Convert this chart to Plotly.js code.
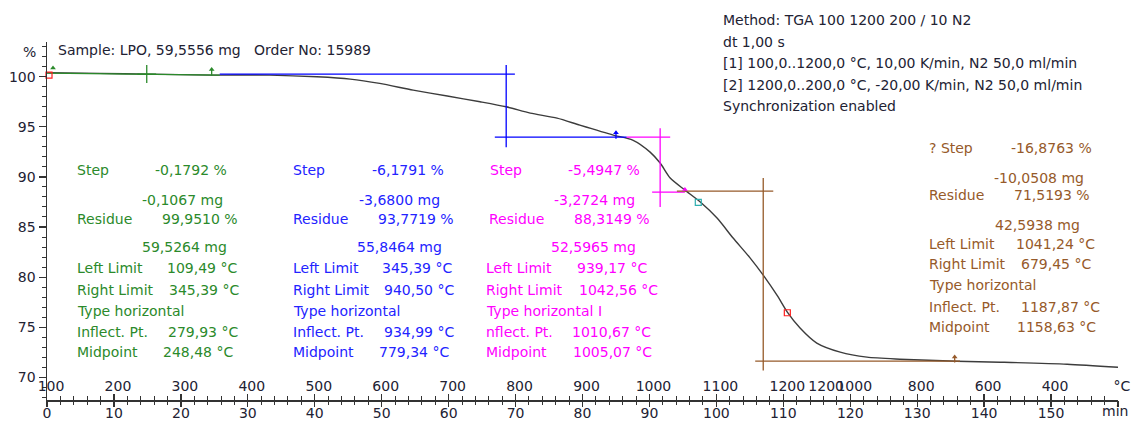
<!DOCTYPE html>
<html><head><meta charset="utf-8">
<script src="https://cdn.plot.ly/plotly-3.0.1.min.js"></script>
<style>html,body{margin:0;padding:0;background:#fff}</style>
</head><body><div id="chart" style="width:1131px;height:421px"></div>
<script>
// ---- data ----
const timeMin = [0, 7.9, 15.1, 24.6, 33.3, 40.3, 45.3, 49.7, 54.7, 59.8, 64.7, 68.6, 72.2, 76.2, 79.6, 84.6, 87.5, 90.1, 91.6, 93.1, 95.3, 97.6, 100.1, 102.5, 105.0, 107.0, 109.1, 110.6, 112.5, 115.0, 118.5, 122.5, 127.4, 135.9, 142.4, 152.4, 160];
const massPct = [100.38, 100.32, 100.25, 100.15, 100.15, 99.98, 99.75, 99.32, 98.65, 98.06, 97.49, 96.99, 96.36, 95.86, 95.16, 94.17, 93.67, 92.47, 91.38, 89.88, 88.68, 87.49, 85.89, 83.90, 81.95, 80.20, 78.15, 76.51, 74.92, 73.42, 72.52, 72.02, 71.82, 71.62, 71.52, 71.32, 71.02];

const minTickVals = [0,10,20,30,40,50,60,70,80,90,100,110,120,130,140,150];
const minTickText = ['0','10','20','30','40','50','60','70','80','90','100','110','120','130','140','150'];
const minUnit = 'min';
const tempTickPos = [0,10,20,30,40,50,60,70,80,90,100,110,115.8,120,130,140,150,160];
const tempTickText = ['100','200','300','400','500','600','700','800','900','1000','1100','1200','1200','1000','800','600','400','°C'];

const greenLineX = [0,25.8,null,14.9,14.9,null,13.5,16.3,null,24.6,24.6];
const greenLineY = [100.35,100.15,null,99.35,101.15,null,100.25,100.25,null,100.75,100.1];
const blueLineX = [25.8,69.9,null,68.6,68.6,null,66.9,86.6,null,85.0,85.0];
const blueLineY = [100.25,100.25,null,101.15,92.95,null,93.97,93.97,null,94.45,93.8];
const magentaLineX = [86.6,93.1,null,91.6,91.6,null,90.4,95.3];
const magentaLineY = [93.97,93.97,null,94.86,86.99,null,88.48,88.48];
const brownLineX = [94.1,108.5,null,107.0,107.0,null,105.8,136.4,null,135.6,135.6];
const brownLineY = [88.58,88.58,null,89.9,70.7,null,71.63,71.63,null,72.1,71.5];

const pointX = [0.9, 24.6, 85.0, 95.3, 135.6];
const pointY = [100.85, 100.7, 94.4, 88.75, 72.05];
const bracketX = [0.3, 97.3, 110.6];
const bracketY = [100.15, 87.45, 76.45];

const sampleText = 'Sample: LPO, 59,5556 mg\u00a0\u00a0\u00a0Order No: 15989';
const methodLines = ['Method: TGA 100 1200 200 / 10 N2','dt 1,00 s','[1] 100,0..1200,0 °C, 10,00 K/min, N2 50,0 ml/min','[2] 1200,0..200,0 °C, -20,00 K/min, N2 50,0 ml/min','Synchronization enabled'];

const greenLabels = ['Step','','Residue','','Left Limit','Right Limit','Type horizontal','Inflect. Pt.','Midpoint'];
const greenValues = ['-0,1792 %','-0,1067 mg','99,9510 %','59,5264 mg','109,49 °C','345,39 °C','','279,93 °C','248,48 °C'];
const blueLabels = ['Step','','Residue','','Left Limit','Right Limit','Type horizontal','Inflect. Pt.','Midpoint'];
const blueValues = ['-6,1791 %','-3,6800 mg','93,7719 %','55,8464 mg','345,39 °C','940,50 °C','','934,99 °C','779,34 °C'];
const magentaLabels = ['Step','','Residue','','Left Limit','Right Limit','Type horizontal I','nflect. Pt.','Midpoint'];
const magentaValues = ['-5,4947 %','-3,2724 mg','88,3149 %','52,5965 mg','939,17 °C','1042,56 °C','','1010,67 °C','1005,07 °C'];
const brownLabels = ['? Step','','Residue','','Left Limit','Right Limit','Type horizontal','Inflect. Pt.','Midpoint'];
const brownValues = ['-16,8763 %','-10,0508 mg','71,5193 %','42,5938 mg','1041,24 °C','679,45 °C','','1187,87 °C','1158,63 °C'];

// ---- layout / styling ----
const W = 1131, H = 421, ML = 47, MR = 13, MT = 42, MB = 21;
const PW = W - ML - MR, PH = H - MT - MB;
const FONT = 'DejaVu Sans';
const C = {green:'#2b8a2b', blue:'#2323ff', magenta:'#ff00ff', brown:'#965a2a', curve:'#3c3c3c', text:'#222233', red:'#ff2020', teal:'#30b0b0', axis:'#333'};

function ann(text, px, py, color, xanchor, size) {
  return {text: text, xref:'paper', yref:'paper', x:(px-ML)/PW, y:(H-MB-py)/PH,
    xanchor: xanchor||'left', yanchor:'middle', showarrow:false,
    font:{family:FONT, size:size||14, color:color}};
}
const annotations = [];
annotations.push(ann('%', 21, 52, C.text));
annotations.push(ann(sampleText, 56, 50, C.text));
annotations.push(ann(minUnit, 1130, 411, C.text, 'right'));
const methodY = [20, 42, 63, 85, 106];
methodLines.forEach((t,i)=>annotations.push(ann(t, 721, methodY[i], C.text)));

function block(labels, values, color, labelX, valCx, rowY) {
  labels.forEach((t,i)=>{ if (t) annotations.push(ann(t, Array.isArray(labelX)?labelX[i]:labelX, rowY[i], color)); });
  values.forEach((t,i)=>{ if (t) annotations.push(ann(t, valCx[i], rowY[i], color, 'center')); });
}
const rowY = [170,200,219,247,268,290,311,332,352];
const brownRowY = [148,178,195,225,244,264,285,307,327];
block(greenLabels, greenValues, C.green, 75, [191,182.5,200,184,202,204,0,203,198], rowY);
block(blueLabels, blueValues, C.blue, 291, [407.5,399,416,399,416.5,419,0,419,414], rowY);
block(magentaLabels, magentaValues, C.magenta, [488,0,487,0,484,484,484,484,484], [604,594.5,611.5,593.5,611.5,618,0,611.5,612.5], rowY);
block(brownLabels, brownValues, C.brown, 927, [1051.5,1039,1052,1037,1055.5,1056,0,1060.5,1056.5], brownRowY);

const traces = [
  {x: timeMin, y: massPct, type:'scatter', mode:'lines', line:{color:C.curve, width:1.4, shape:'spline', smoothing:0.7}, hoverinfo:'skip'},
  {x: greenLineX, y: greenLineY, xaxis:'x2', type:'scatter', mode:'lines', line:{color:C.green, width:1.3}, hoverinfo:'skip'},
  {x: blueLineX, y: blueLineY, xaxis:'x2', type:'scatter', mode:'lines', line:{color:'#0000ff', width:1.3}, hoverinfo:'skip'},
  {x: magentaLineX, y: magentaLineY, xaxis:'x2', type:'scatter', mode:'lines', line:{color:C.magenta, width:1.3}, hoverinfo:'skip'},
  {x: brownLineX, y: brownLineY, xaxis:'x2', type:'scatter', mode:'lines', line:{color:C.brown, width:1.3}, hoverinfo:'skip'},
  {x: pointX, y: pointY, xaxis:'x3', type:'scatter', mode:'markers', cliponaxis:false,
   marker:{symbol:'triangle-up', size:5, color:[C.green, C.green, '#0000ff', C.magenta, C.brown]}, hoverinfo:'skip'},
  {x: bracketX, y: bracketY, xaxis:'x4', type:'scatter', mode:'markers', cliponaxis:false,
   marker:{symbol:'square-open', size:6, line:{width:1.2}, color:[C.red, C.teal, C.red]}, hoverinfo:'skip'}
];

const axFont = {family:FONT, size:14, color:C.text};
const base = {range:[0,160], showgrid:false, zeroline:false, fixedrange:true};
const layout = {
  width:W, height:H, autosize:false, showlegend:false,
  paper_bgcolor:'#fff', plot_bgcolor:'#fff',
  margin:{l:ML, r:MR, t:MT, b:MB, pad:0},
  // minute labels (below the axis line)
  xaxis:Object.assign({}, base, {showline:true, linecolor:C.axis, linewidth:1.5,
    tickmode:'array', tickvals:minTickVals, ticktext:minTickText, ticks:'', ticklabeloverflow:'allow',
    tickangle:0, tickfont:axFont}),
  // temperature labels (above the axis line)
  xaxis2:Object.assign({}, base, {overlaying:'x', anchor:'y', showline:false,
    tickmode:'array', tickvals:tempTickPos, ticktext:tempTickText, ticks:'', ticklabelposition:'inside',
    ticklabeloverflow:'allow', ticklabelshift:4, ticklabelstandoff:3, tickangle:0, tickfont:axFont}),
  // tick marks below the line
  xaxis3:Object.assign({}, base, {overlaying:'x', anchor:'y', showline:false, showticklabels:false,
    tickmode:'linear', tick0:0, dtick:10, ticks:'outside', ticklen:6, tickwidth:1.3, tickcolor:C.axis,
    minor:{tickmode:'linear', tick0:0, dtick:2, ticks:'outside', ticklen:4, tickwidth:1, tickcolor:C.axis}}),
  // tick marks above the line
  xaxis4:Object.assign({}, base, {overlaying:'x', anchor:'y', showline:false, showticklabels:false,
    tickmode:'linear', tick0:0, dtick:10, ticks:'inside', ticklen:6, tickwidth:1.3, tickcolor:C.axis,
    minor:{tickmode:'linear', tick0:0, dtick:2, ticks:'inside', ticklen:4, tickwidth:1, tickcolor:C.axis}}),
  yaxis:{range:[67.75,103.45], showgrid:false, zeroline:false, showline:true, linecolor:C.axis, linewidth:1.5,
    tickmode:'linear', tick0:0, dtick:5, ticks:'outside', ticklen:7, tickwidth:1.3, tickcolor:C.axis,
    minor:{dtick:1, ticks:'outside', ticklen:4, tickwidth:1, tickcolor:C.axis},
    tickfont:axFont, fixedrange:true},
  annotations: annotations
};
Plotly.newPlot('chart', traces, layout, {staticPlot:true, displayModeBar:false});
</script>
</body></html>
